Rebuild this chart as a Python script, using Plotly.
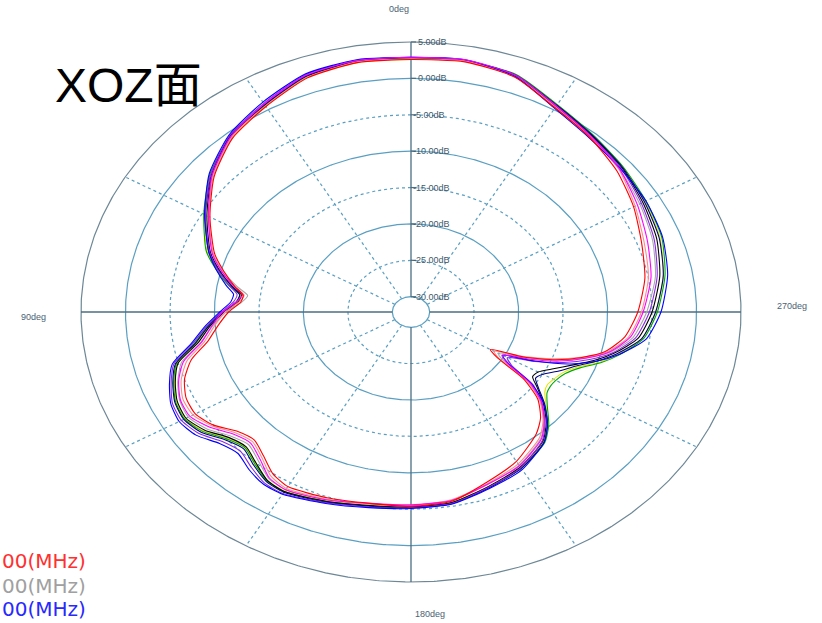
import numpy as np
import plotly.graph_objects as go

# ---------------- data (dB vs angle in degrees) ----------------
angles = [0, 10, 20, 30, 40, 50, 60, 70, 75, 80, 83, 86, 90, 95, 100, 105, 110, 115, 120, 125,
          130, 135, 140, 145, 150, 160, 170, 180, 190, 200, 210, 220, 225, 230, 234, 237, 240, 244,
          248, 252, 256, 262, 270, 280, 290, 300, 310, 320, 330, 340, 350, 360]

red = [2.6, 2.7, 2.1, 0.5, -0.9, -3.2, -6.0, -8.6, -10.3, -12.0, -13.1, -12.9, -11.6, -10.3, -8.9, -6.5, -5.0, -4.2, -4.1, -5.0,
       -6.6, -7.2, -6.3, -5.0, -4.4, -4.9, -5.4, -5.4, -5.7, -7.2, -8.4, -10.2, -11.5, -13.5, -16.5, -20.5, -21.8, -18.0,
       -14.6, -11.9, -9.6, -7.8, -6.6, -5.4, -4.5, -3.2, -1.9, -0.8, 0.3, 2.2, 2.8, 2.6]
pink = [2.7, 2.8, 2.2, 0.6, -0.7, -3.0, -5.9, -8.4, -10.0, -11.9, -13.2, -12.7, -11.2, -9.9, -8.5, -6.0, -4.6, -3.8, -3.8, -4.8,
        -6.3, -6.9, -6.0, -4.6, -4.1, -4.7, -5.3, -5.5, -5.9, -7.0, -8.0, -9.6, -11.1, -13.2, -16.0, -20.2, -21.3, -18.2,
        -14.9, -12.0, -9.4, -7.4, -6.2, -5.0, -4.2, -3.0, -1.6, -0.7, 0.4, 2.3, 2.9, 2.7]
magenta = [2.9, 3.0, 2.5, 0.9, -0.6, -2.9, -5.8, -8.3, -10.0, -11.9, -13.0, -12.4, -10.9, -9.6, -8.2, -5.6, -4.3, -3.5, -3.4, -4.5,
           -6.0, -6.6, -5.7, -4.3, -3.9, -4.6, -5.4, -5.6, -5.8, -6.9, -7.7, -9.3, -10.9, -13.0, -15.6, -19.2, -20.3, -17.3,
           -14.1, -11.5, -9.2, -7.2, -6.0, -4.7, -3.8, -2.7, -1.5, -0.6, 0.6, 2.5, 3.1, 2.9]
blue = [2.9, 3.1, 2.7, 1.2, -0.3, -2.5, -5.3, -7.9, -9.4, -11.0, -12.0, -11.8, -10.6, -8.8, -7.0, -4.3, -3.2, -2.3, -2.0, -2.6,
        -4.0, -4.6, -3.8, -3.2, -3.2, -4.1, -4.8, -5.1, -5.3, -6.3, -7.1, -8.8, -10.4, -12.6, -15.4, -19.0, -20.2, -16.8,
        -13.0, -10.2, -8.0, -5.4, -4.0, -2.8, -2.0, -1.6, -1.4, -0.9, 0.2, 2.3, 3.1, 2.9]
navy = [2.8, 2.9, 2.4, 0.8, -0.5, -2.8, -5.4, -7.9, -9.7, -11.6, -12.7, -12.4, -11.0, -9.2, -7.5, -4.7, -3.6, -2.8, -2.6, -3.3,
        -4.8, -5.5, -4.6, -3.7, -3.5, -4.3, -5.0, -5.2, -5.4, -6.4, -7.3, -8.8, -10.4, -12.5, -14.4, -15.4, -15.0, -13.6,
        -12.2, -10.2, -8.3, -5.9, -4.6, -3.3, -2.4, -1.8, -1.1, -0.4, 0.7, 2.5, 3.0, 2.8]
green = [2.7, 2.8, 2.3, 0.7, -0.5, -2.6, -5.2, -7.6, -9.4, -11.3, -12.7, -12.4, -10.9, -9.1, -7.4, -4.8, -3.7, -2.9, -2.7, -3.5,
         -5.0, -5.7, -4.8, -3.8, -3.6, -4.4, -5.1, -5.3, -5.5, -6.5, -7.3, -8.7, -10.2, -12.1, -13.2, -13.4, -13.3, -12.8,
         -11.6, -9.6, -7.9, -5.7, -4.4, -3.1, -2.1, -1.6, -1.0, -0.3, 0.8, 2.6, 3.0, 2.7]
yellow = [2.6, 2.7, 2.2, 0.6, -0.7, -2.7, -5.3, -7.7, -9.5, -11.4, -12.8, -12.5, -11.0, -9.2, -7.6, -4.9, -3.8, -3.0, -2.8, -3.6,
          -5.1, -5.8, -4.9, -3.9, -3.7, -4.5, -5.2, -5.4, -5.6, -6.6, -7.4, -8.9, -10.4, -12.3, -13.5, -13.8, -13.6, -13.1,
          -11.9, -9.8, -8.1, -5.9, -4.6, -3.3, -2.3, -1.7, -1.1, -0.4, 0.7, 2.5, 2.9, 2.6]
black = [2.8, 2.9, 2.4, 0.8, -0.6, -2.9, -5.6, -8.1, -9.8, -11.7, -12.9, -12.6, -11.1, -9.4, -7.8, -5.0, -3.9, -3.1, -2.9, -3.8,
         -5.3, -5.9, -5.0, -3.9, -3.6, -4.4, -5.1, -5.3, -5.5, -6.6, -7.5, -9.0, -10.6, -12.7, -14.6, -15.8, -15.6, -14.3,
         -12.6, -10.5, -8.6, -6.3, -5.0, -3.7, -2.7, -2.0, -1.2, -0.5, 0.6, 2.4, 3.0, 2.8]
gray = [2.7, 2.8, 2.3, 0.7, -0.8, -3.1, -5.8, -8.4, -10.2, -12.3, -13.6, -13.0, -11.3, -9.7, -8.1, -5.4, -4.2, -3.4, -3.2, -4.1,
        -5.6, -6.3, -5.4, -4.2, -3.9, -4.6, -5.3, -5.5, -5.8, -6.9, -7.8, -9.4, -11.0, -13.1, -15.8, -19.6, -20.8, -17.8,
        -14.5, -11.6, -9.1, -6.9, -5.6, -4.2, -3.2, -2.4, -1.5, -0.7, 0.5, 2.3, 2.9, 2.7]
purple = [2.9, 3.0, 2.6, 1.0, -0.4, -2.7, -5.4, -8.0, -9.6, -11.4, -12.4, -12.1, -10.8, -9.0, -7.2, -4.5, -3.4, -2.5, -2.3, -3.0,
          -4.4, -5.0, -4.2, -3.4, -3.3, -4.2, -4.9, -5.2, -5.4, -6.5, -7.4, -9.1, -10.8, -12.9, -15.2, -18.6, -19.6, -16.6,
          -13.6, -11.0, -8.8, -6.6, -5.3, -4.0, -3.0, -2.2, -1.3, -0.6, 0.5, 2.4, 3.0, 2.9]

series = [
    ("gray", gray, "#a8a8a8"),
    ("yellow", yellow, "#e6e600"),
    ("green", green, "#00a800"),
    ("black", black, "#000000"),
    ("navy", navy, "#000080"),
    ("purple", purple, "#8a2be2"),
    ("pink", pink, "#ff8c8c"),
    ("blue", blue, "#0000ff"),
    ("magenta", magenta, "#ff00ff"),
    ("red", red, "#ff0000"),
]

ring_db = [5, 0, -5, -10, -15, -20, -25, -30]
ring_solid = [True, True, False, True, False, True, False, True]
ring_labels = ["5.00dB", "0.00dB", "-5.00dB", "-10.00dB", "-15.00dB", "-20.00dB", "-25.00dB", "-30.00dB"]
spoke_angles = [30, 60, 120, 150, 210, 240, 300, 330]
axis_angles = [0, 90, 180, 270]
angle_labels = ["0deg", "90deg", "180deg", "270deg"]
legend_labels = ["00(MHz)", "00(MHz)", "00(MHz)"]
legend_colors = ["#ff3030", "#a0a0a0", "#2828ff"]
title_text = "XOZ面"

# ---------------- geometry helpers ----------------
DB_MIN = -30.0
HOLE = 2.1           # radial units reserved for the centre hole
R_MAX = 5 - DB_MIN + HOLE


def rad(db):
    return np.asarray(db, dtype=float) - DB_MIN + HOLE


def to_xy(theta_deg, db):
    t = np.radians(np.asarray(theta_deg, dtype=float))
    r = rad(db)
    return -r * np.sin(t), r * np.cos(t)


W, H = 822, 623
CX, CY = 411, 312
SX, SY = 330 / R_MAX, 270 / R_MAX

fig = go.Figure()

grid_col = "#5a9fc2"
outer_col = "#6d8796"
axis_col = "#4d6e82"
full = np.linspace(0, 360, 721)

# rings
for db, solid in zip(ring_db, ring_solid):
    x, y = to_xy(full, np.full_like(full, db))
    col = outer_col if db == 5 else grid_col
    fig.add_trace(go.Scatter(x=x, y=y, mode="lines", hoverinfo="skip",
                             line=dict(color=col, width=1.2, dash="solid" if solid else "dot")))

# spokes
for a in spoke_angles:
    x, y = to_xy([a, a], [DB_MIN, 5])
    fig.add_trace(go.Scatter(x=x, y=y, mode="lines", hoverinfo="skip",
                             line=dict(color=grid_col, width=1.2, dash="dot")))
# main axes
for a in axis_angles:
    x, y = to_xy([a, a], [DB_MIN, 5])
    fig.add_trace(go.Scatter(x=x, y=y, mode="lines", hoverinfo="skip",
                             line=dict(color=axis_col, width=1.3)))

# ring label ticks
for db in ring_db:
    r = float(rad(db))
    fig.add_trace(go.Scatter(x=[0, 5 / SX], y=[r, r], mode="lines", hoverinfo="skip",
                             line=dict(color=axis_col, width=1.2)))

# pattern traces
for name, vals, col in series:
    x, y = to_xy(angles, vals)
    fig.add_trace(go.Scatter(x=x, y=y, mode="lines", name=name,
                             line=dict(color=col, width=1.1, shape="spline", smoothing=0.6)))

annotations = []
for db, lab in zip(ring_db, ring_labels):
    annotations.append(dict(x=0, y=float(rad(db)), xref="x", yref="y", text=lab, showarrow=False,
                            xanchor="left", yanchor="middle", xshift=5 if db >= 0 else 0,
                            font=dict(family="Liberation Sans, Arial", size=9, color="#3e5a6c")))

label_pos = {"0deg": (399, 9), "90deg": (33, 317), "270deg": (792, 306), "180deg": (430, 614)}
for lab in angle_labels:
    px, py = label_pos[lab]
    annotations.append(dict(x=px / W, y=1 - py / H, xref="paper", yref="paper", text=lab, showarrow=False,
                            xanchor="center", yanchor="middle",
                            font=dict(family="Liberation Sans, Arial", size=9, color="#4a6274")))

annotations.append(dict(x=53 / W, y=1 - 86 / H, xref="paper", yref="paper", text=title_text, showarrow=False,
                        xanchor="left", yanchor="middle",
                        font=dict(family="Liberation Sans, Arial, Noto Sans CJK SC", size=48, color="#000000")))

leg_y = [561, 586, 609]
for lab, col, py in zip(legend_labels, legend_colors, leg_y):
    annotations.append(dict(x=0, y=1 - py / H, xref="paper", yref="paper", text=lab, showarrow=False,
                            xanchor="left", yanchor="middle",
                            font=dict(family="DejaVu Sans", size=20, color=col)))

fig.update_layout(
    width=W, height=H,
    margin=dict(l=0, r=0, t=0, b=0),
    paper_bgcolor="white", plot_bgcolor="white",
    showlegend=False,
    xaxis=dict(visible=False, range=[-CX / SX, (W - CX) / SX], fixedrange=True),
    yaxis=dict(visible=False, range=[-(H - CY) / SY, CY / SY], fixedrange=True),
    annotations=annotations,
)

fig.write_html("out.html", config={"displayModeBar": False},
               post_script="document.body.style.margin='0';")
